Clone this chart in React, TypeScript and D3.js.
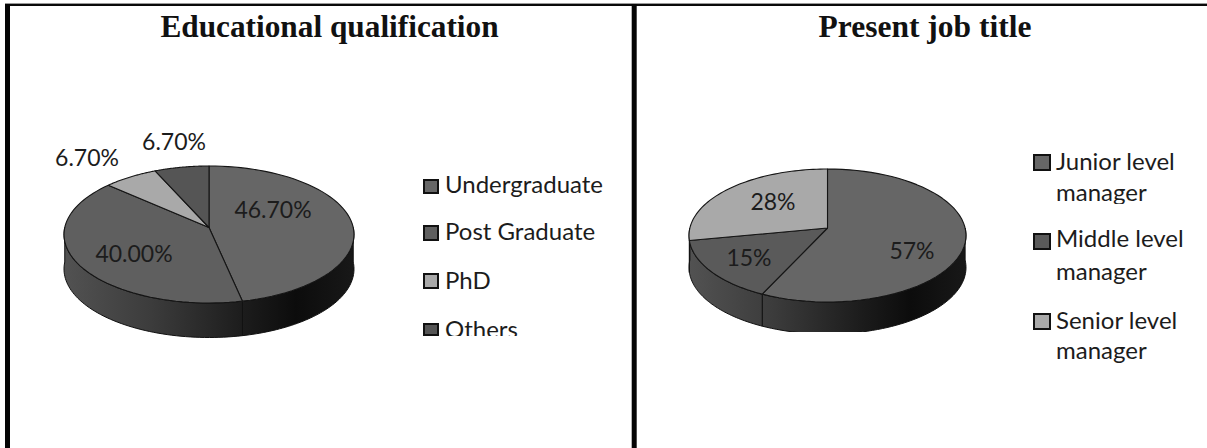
import React from "react";
import * as d3 from "d3";

const eduCategories = ["Undergraduate", "Post Graduate", "PhD", "Others"];
const eduValues = [46.7, 40.0, 6.7, 6.7];
const eduLabels = ["46.70%", "40.00%", "6.70%", "6.70%"];
const jobLegend = [["Junior level", "manager"], ["Middle level", "manager"], ["Senior level", "manager"]];
const jobValues = [57, 15, 28];
const jobLabels = ["57%", "15%", "28%"];
const eduFills = ["#666666", "#5f5f5f", "#a9a9a9", "#555555"];
const jobFills = ["#666666", "#5a5a5a", "#a9a9a9"];

const FONT = "Lato, 'Open Sans', sans-serif";
const TEXT = "#1c1c1c";

type P = { cx: number; cy: number; rx: number; ry: number; apex: number; depth: number; clipBottom?: number };

function projector(p: P) {
  const c = p.apex / p.ry;
  const sx = d3.scaleLinear().domain([-1, 1]).range([p.cx - p.rx * Math.sqrt(1 - c * c), p.cx + p.rx * Math.sqrt(1 - c * c)]);
  const sy = d3.scaleLinear().domain([-1, 1]).range([p.cy + p.ry, p.cy - p.ry]);
  return (a: number): [number, number] => {
    const u = Math.sin(a), v = Math.cos(a), d = 1 + c * v;
    return [sx(u / d), sy((v + c) / d)];
  };
}

function Pie3D({ id, p, values, fills, labels, labelPos }: {
  id: string; p: P; values: number[]; fills: string[]; labels: string[]; labelPos: [number, number][];
}) {
  const arcs = d3.pie<number>().sort(null).value(d => d)(values);
  const proj = projector(p);
  const line = d3.line();
  const c = p.apex / p.ry;
  const apex: [number, number] = [p.cx, p.cy - p.ry * c];
  const sample = (a0: number, a1: number) => d3.range(0, 61).map(i => proj(a0 + ((a1 - a0) * i) / 60));
  const visible = (a0: number, a1: number) => {
    const lo = Math.max(a0, Math.PI / 2), hi = Math.min(a1, (3 * Math.PI) / 2);
    return hi > lo ? [lo, hi] : null;
  };
  return (
    <g>
      <defs>
        <linearGradient id={id + "g"} gradientUnits="userSpaceOnUse" x1={p.cx - p.rx} x2={p.cx + p.rx} y1={0} y2={0}>
          <stop offset="0" stopColor="#525252" />
          <stop offset="0.3" stopColor="#3c3c3c" />
          <stop offset="0.62" stopColor="#1c1c1c" />
          <stop offset="0.8" stopColor="#0c0c0c" />
          <stop offset="1" stopColor="#181818" />
        </linearGradient>
        {p.clipBottom ? (
          <clipPath id={id + "c"}><rect x={p.cx - p.rx - 10} y={0} width={p.rx * 2 + 20} height={p.clipBottom} /></clipPath>
        ) : null}
      </defs>
      <g clipPath={p.clipBottom ? `url(#${id}c)` : undefined}>
        {arcs.map((a, i) => {
          const v = visible(a.startAngle, a.endAngle);
          if (!v) return null;
          const top = sample(v[0], v[1]);
          const bottom = top.map(([x, y]) => [x, y + p.depth] as [number, number]).reverse();
          return <path key={i} d={line([...top, ...bottom])! + "Z"} fill={`url(#${id}g)`} stroke="#111" strokeWidth={1} />;
        })}
      </g>
      {arcs.map((a, i) => (
        <path key={i} d={line([apex, ...sample(a.startAngle, a.endAngle)])! + "Z"} fill={fills[i]} stroke="#151515" strokeWidth={1.1} strokeLinejoin="round" />
      ))}
      {labels.map((t, i) => (
        <text key={i} x={labelPos[i][0]} y={labelPos[i][1]} fontFamily={FONT} fontSize={23} fill={TEXT} textAnchor="middle">{t}</text>
      ))}
    </g>
  );
}

function Swatch({ x, y, w, h, fill }: { x: number; y: number; w: number; h: number; fill: string }) {
  return <rect x={x} y={y} width={w} height={h} fill={fill} stroke="#111" strokeWidth={2} />;
}

export default function App() {
  const eduBase = [193, 240, 289, 338];
  const eduSwatch: [number, number][] = [[180, 13], [226, 14], [274, 14], [324, 11]];
  const jobBase = [[170, 201], [247, 280], [329, 359]];
  const jobSwatch = [155, 234, 314];
  return (
    <svg width={1207} height={448} style={{ position: "absolute", left: 0, top: 0, background: "#fff" }}>
      <defs>
        <clipPath id="l1"><rect x={440} y={170} width={190} height={27} /></clipPath>
        <clipPath id="l4"><rect x={440} y={315} width={190} height={21} /></clipPath>
        <clipPath id="l5"><rect x={1040} y={180} width={160} height={24} /></clipPath>
      </defs>
      <rect x={5} y={3} width={1202} height={1} fill="#999" />
      <rect x={5} y={4} width={1202} height={2} fill="#0a0a0a" />
      <rect x={5} y={4} width={5} height={444} fill="#050505" />
      <rect x={631.7} y={4} width={5} height={444} fill="#050505" />
      <text x={329.5} y={37} textAnchor="middle" fontFamily="'Liberation Serif', serif" fontWeight="bold" fontSize={31.3} fill="#111">Educational qualification</text>
      <text x={925} y={37} textAnchor="middle" fontFamily="'Liberation Serif', serif" fontWeight="bold" fontSize={31.5} fill="#111">Present job title</text>
      <Pie3D id="a" p={{ cx: 209, cy: 234.5, rx: 145, ry: 68.5, apex: 7, depth: 34.5 }} values={eduValues} fills={eduFills}
        labels={eduLabels} labelPos={[[273, 218], [134, 262], [87, 166], [174, 150]]} />
      <Pie3D id="b" p={{ cx: 827.5, cy: 235.5, rx: 138.5, ry: 66.5, apex: 7.5, depth: 32, clipBottom: 332 }} values={jobValues} fills={jobFills}
        labels={jobLabels} labelPos={[[912, 259], [749, 266], [773, 210]]} />
      {eduCategories.map((t, i) => (
        <g key={t}>
          <Swatch x={424} y={eduSwatch[i][0]} w={14} h={eduSwatch[i][1]} fill={eduFills[i]} />
          <text x={445} y={eduBase[i]} fontFamily={FONT} fontSize={24} fill={TEXT}
            clipPath={i === 0 ? "url(#l1)" : i === 3 ? "url(#l4)" : undefined}>{t}</text>
        </g>
      ))}
      {jobLegend.map((lines, i) => (
        <g key={i}>
          <Swatch x={1034} y={jobSwatch[i]} w={16} h={15} fill={jobFills[i]} />
          <text x={1056} y={jobBase[i][0]} fontFamily={FONT} fontSize={24} fill={TEXT}>{lines[0]}</text>
          <text x={1056} y={jobBase[i][1]} fontFamily={FONT} fontSize={24} fill={TEXT}
            clipPath={i === 0 ? "url(#l5)" : undefined}>{lines[1]}</text>
        </g>
      ))}
    </svg>
  );
}
